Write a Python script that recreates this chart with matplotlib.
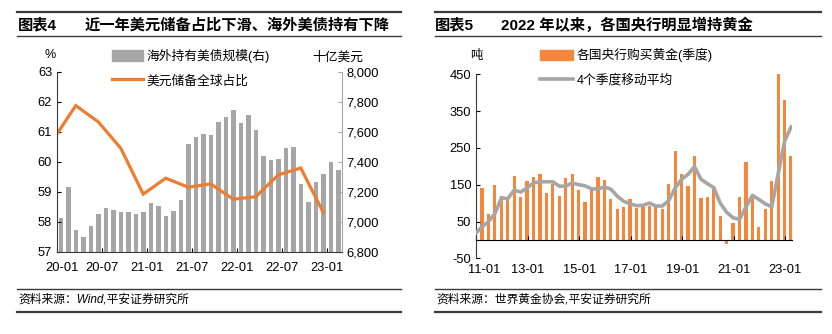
import matplotlib
matplotlib.use("Agg")
import matplotlib.pyplot as plt
from matplotlib.lines import Line2D
from matplotlib.patches import Patch
from matplotlib.transforms import ScaledTranslation

plt.rcParams['font.family'] = ['Liberation Sans', 'Noto Sans CJK SC']
plt.rcParams['axes.unicode_minus'] = False

# 图表4 数据：海外持有美债规模（月度，十亿美元），美元储备全球占比（季度，%）
holdings_labels = ['20-01', '20-07', '21-01', '21-07', '22-01', '22-07', '23-01']
foreign_holdings = [7029, 7231, 6949, 6900, 6973, 7053, 7091, 7082, 7069, 7069,
                    7053, 7069, 7124, 7109, 7038, 7076, 7147, 7522, 7569, 7585,
                    7578, 7664, 7698, 7745, 7658, 7711, 7611, 7442, 7411, 7420,
                    7491, 7498, 7251, 7131, 7267, 7322, 7402, 7347]
# 季度末所在月份序号（20-01 为 0）
share_month = [-1, 2, 5, 8, 11, 14, 17, 20, 23, 26, 29, 32, 35]
usd_share = [60.75, 61.88, 61.34, 60.46, 58.93, 59.46, 59.16, 59.27, 58.76,
             58.84, 59.57, 59.80, 58.32]

# 图表5 数据：各国央行购买黄金（季度，吨），4个季度移动平均
gold_labels = ['11-01', '13-01', '15-01', '17-01', '19-01', '21-01', '23-01']
gold_buy = [142, 71, 149, 118, 114, 173, 116, 159, 171, 180,
            127, 152, 119, 168, 179, 136, 104, 135, 172, 162,
            110, 83, 90, 110, 88, 89, 92, 89, 83, 153,
            241, 180, 146, 228, 113, 116, 139, 64, -10, 45,
            116, 211, 116, 35, 84, 159, 453, 381, 228]
gold_ma = [18, 35, 50, 71, 114, 112, 135, 130, 141, 155,
           158, 158, 158, 146, 146, 155, 150, 147, 139, 138,
           144, 138, 119, 105, 98, 93, 94, 100, 92, 92,
           107, 141, 165, 178, 199, 165, 153, 142, 100, 75,
           60, 56, 90, 121, 110, 98, 90, 180, 268, 307]

ORANGE = '#ED7D31'
GOLD = '#F4873B'
GRAY = '#A6A6A6'
DARK = '#3A3A3A'
W, H = 832, 334


def fx(x):
    return x / W


def fy(y):
    return 1 - y / H


def hline(fig, x0, x1, y, lw):
    fig.add_artist(Line2D([fx(x0), fx(x1)], [fy(y), fy(y)], color=DARK,
                          lw=lw, transform=fig.transFigure))


def shift_first_label(fig, ax, px):
    lab = ax.get_xticklabels()[0]
    lab.set_transform(lab.get_transform() +
                      ScaledTranslation(px / 100, 0, fig.dpi_scale_trans))


fig = plt.figure(figsize=(W / 100, H / 100), dpi=100)

# 标题和来源的框线
for x0, x1 in [(17, 401), (435, 821)]:
    hline(fig, x0, x1, 12, 1.6)
    hline(fig, x0, x1, 36, 1.0)
    hline(fig, x0, x1, 289, 1.0)
    hline(fig, x0, x1, 312, 1.6)

fig.text(fx(18), fy(25), '图表4', fontsize=11, fontweight='bold', va='center')
fig.text(fx(85), fy(25), '近一年美元储备占比下滑、海外美债持有下降',
         fontsize=11, fontweight='bold', va='center')
fig.text(fx(435), fy(25), '图表5', fontsize=11, fontweight='bold', va='center')
fig.text(fx(501), fy(25), '2022 年以来，各国央行明显增持黄金',
         fontsize=11, fontweight='bold', va='center')
fig.text(fx(18), fy(300), '资料来源：Wind,平安证券研究所', fontsize=8.5,
         style='italic', va='center')
fig.text(fx(436), fy(300), '资料来源：世界黄金协会,平安证券研究所', fontsize=8.5,
         style='italic', va='center')

# ---------- 图表4 ----------
ax1 = fig.add_axes([fx(57), fy(252), (342 - 57) / W, 180 / H])
ax1r = ax1.twinx()
ax1.set_zorder(ax1r.get_zorder() + 1)
ax1.patch.set_visible(False)

idx = list(range(len(foreign_holdings)))
ax1r.bar(idx, foreign_holdings, width=0.6, color=GRAY)
ax1r.set_ylim(6800, 8000)
ax1r.set_yticks(range(6800, 8001, 200))
ax1r.set_yticklabels([f'{v:,}' for v in range(6800, 8001, 200)])

ax1.plot(share_month, usd_share, color=ORANGE, lw=2.3, solid_joinstyle='miter')
ax1.set_ylim(57, 63)
ax1.set_yticks(range(57, 64))
ax1.set_xlim(-0.5, 37.5)
ax1.set_xticks([-0.5 + 6 * k for k in range(7)])
ax1.set_xticklabels(holdings_labels)

for a in (ax1, ax1r):
    a.spines['top'].set_visible(False)
    a.tick_params(direction='in', length=3, labelsize=9.3, colors='black')
ax1.spines['right'].set_visible(False)
ax1r.spines['left'].set_visible(False)
ax1r.spines['bottom'].set_visible(False)
ax1.spines['left'].set_color(DARK)
ax1.spines['bottom'].set_color(DARK)
ax1r.spines['right'].set_color(GRAY)
ax1r.tick_params(axis='y', color=GRAY, pad=3)
ax1.tick_params(axis='x', pad=7)
shift_first_label(fig, ax1, 5)

fig.text(fx(50), fy(55), '%', fontsize=9, ha='center', va='center')
fig.text(fx(338), fy(58), '十亿美元', fontsize=9.2, ha='center', va='center')

ax1.legend(handles=[Patch(color=GRAY), Line2D([], [], color=ORANGE, lw=2.3)],
           labels=['海外持有美债规模(右)', '美元储备全球占比'],
           loc='upper left', bbox_to_anchor=(fx(112), fy(49)),
           bbox_transform=fig.transFigure, frameon=False, fontsize=9.2,
           handlelength=2.45, handleheight=0.9, handletextpad=0.25,
           labelspacing=0.9, borderpad=0, borderaxespad=0)

# ---------- 图表5 ----------
ax2 = fig.add_axes([fx(476.2), fy(258.3), (791.7 - 476.2) / W, 184 / H])
qpos = [i + 0.9 for i in range(len(gold_buy))]
ax2.bar(qpos, gold_buy, width=0.5, color=GOLD)
ma_pos = [i - 0.1 for i in range(len(gold_ma))]
ax2.plot(ma_pos, gold_ma, color=GRAY, lw=2.6, zorder=3)
ax2.set_xlim(0, 49)
ax2.set_ylim(-50, 450)
ax2.set_yticks(range(-50, 451, 100))
ax2.set_xticks([8 * k for k in range(7)])
ax2.set_xticklabels(gold_labels)
ax2.spines['top'].set_visible(False)
ax2.spines['right'].set_visible(False)
ax2.spines['bottom'].set_position(('data', 0))
ax2.spines['bottom'].set_color('black')
ax2.spines['left'].set_color(DARK)
ax2.tick_params(direction='in', length=3, labelsize=9.3)
ax2.tick_params(axis='x', pad=17)
shift_first_label(fig, ax2, 8)

fig.text(fx(476), fy(56), '吨', fontsize=9, ha='center', va='center')
ax2.legend(handles=[Patch(color=GOLD), Line2D([], [], color=GRAY, lw=2.6)],
           labels=['各国央行购买黄金(季度)', '4个季度移动平均'],
           loc='upper left', bbox_to_anchor=(fx(540), fy(48)),
           bbox_transform=fig.transFigure, frameon=False, fontsize=9.2,
           handlelength=2.6, handleheight=0.9, handletextpad=0.25,
           labelspacing=0.9, borderpad=0, borderaxespad=0)

fig.savefig('out.png', dpi=100)
